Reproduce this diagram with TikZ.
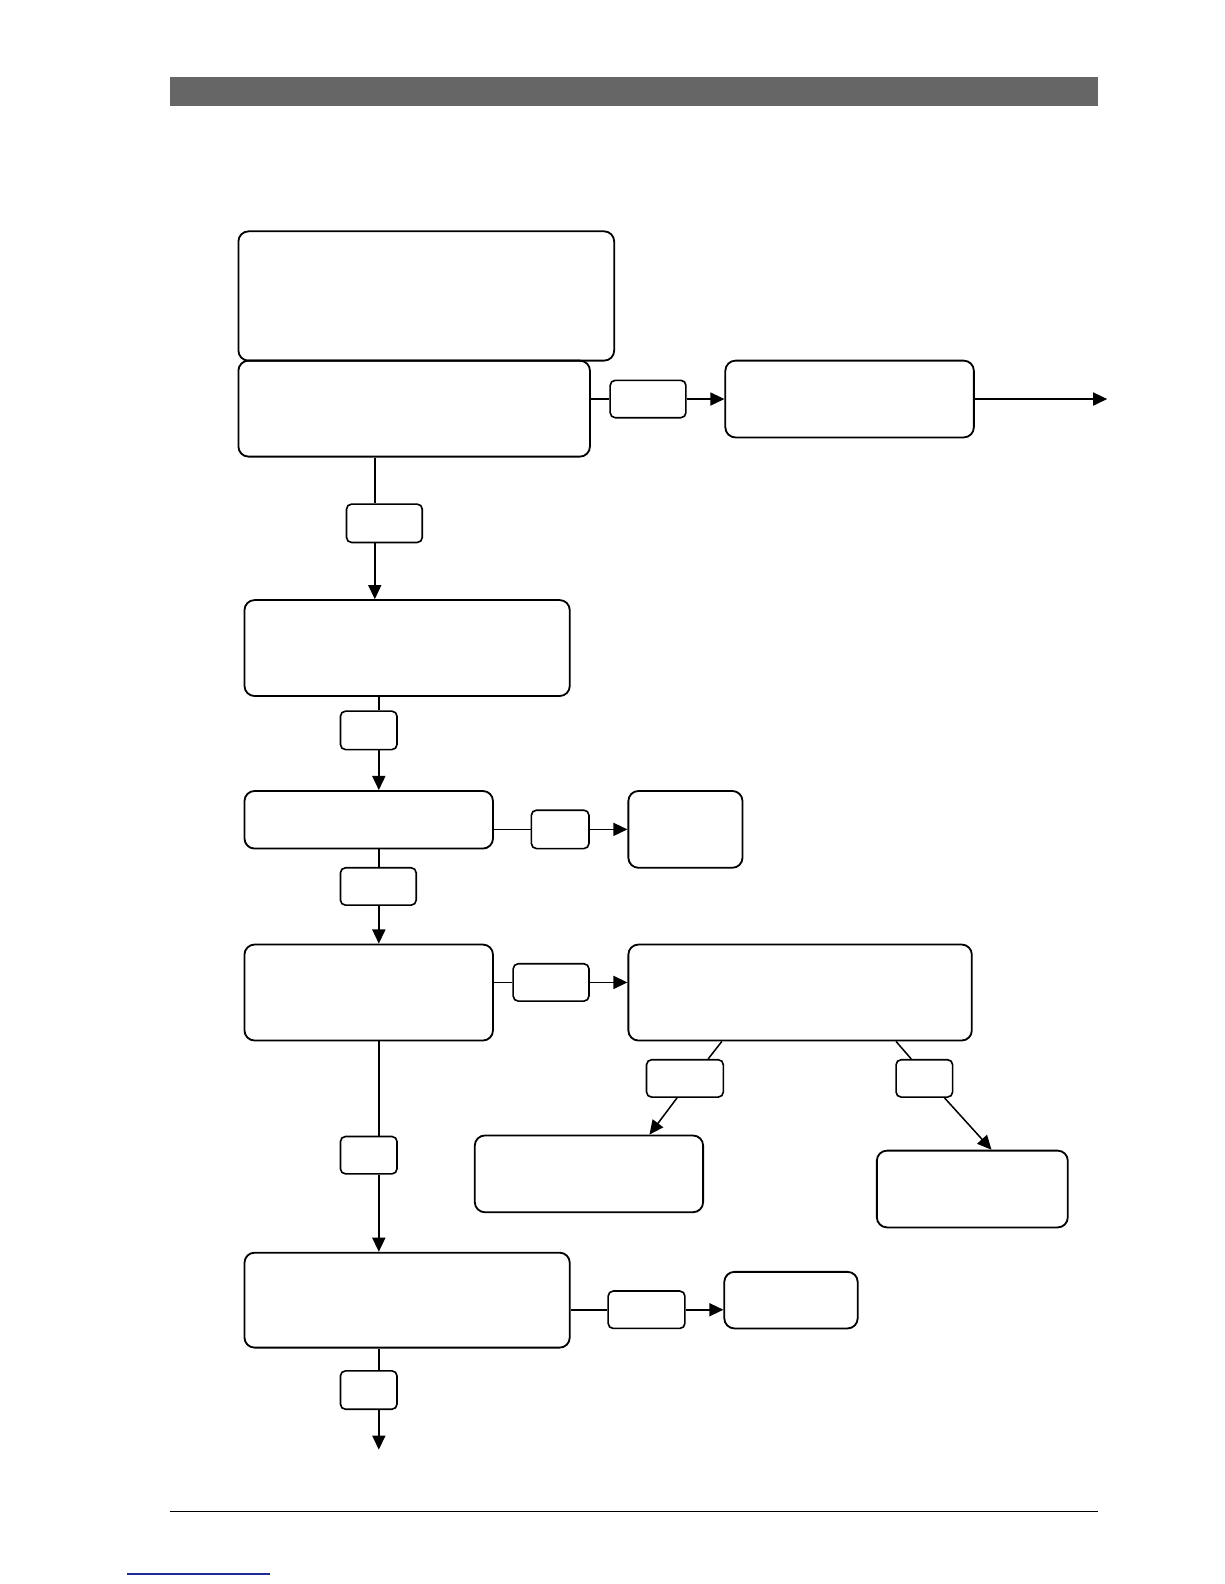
\documentclass[tikz,border=0pt]{standalone}
\usetikzlibrary{arrows.meta,positioning}
\definecolor{bargray}{HTML}{666666}
\definecolor{linkblue}{HTML}{1F2A9A}
\tikzset{
  stepbox/.style={rectangle,draw,line width=1.8pt,rounded corners=10pt,
                  inner sep=0pt},
  tag/.style    ={rectangle,draw,line width=1.6pt,rounded corners=5pt,
                  inner sep=0pt},
  arr/.style    ={-{Triangle[length=14pt,width=13pt]},line width=1.5pt},
  link/.style   ={line width=1.5pt}
}
\begin{document}
\begin{tikzpicture}[x=1pt,y=-1pt]
  \useasboundingbox (0,0) rectangle (1212,1568);
  % page furniture
  \fill [bargray] (168,76) rectangle (1087,105);
  \draw [line width=1pt] (168,1496) -- (1087,1496);
  \draw [linkblue,line width=1.5pt] (126,1558) -- (267,1558);

  % boxes
  \node (A)     [stepbox, minimum width=372pt, minimum height=128pt] at (422,293)    {};
  \node (B)     [stepbox, minimum width=348pt, minimum height=95pt]  at (410,404.5)  {};
  \node (lab1)  [tag,     minimum width=75pt,  minimum height=37pt]  at (641.5,395)  {};
  \node (C)     [stepbox, minimum width=246pt, minimum height=76pt]  at (841,395)    {};
  \node (lab2)  [tag,     minimum width=75pt,  minimum height=38pt]  at (380.5,518)  {};
  \node (D)     [stepbox, minimum width=322pt, minimum height=95pt]  at (403,641.5)  {};
  \node (lab3)  [tag,     minimum width=56pt,  minimum height=38pt]  at (365,723)    {};
  \node (E)     [stepbox, minimum width=246pt, minimum height=57pt]  at (365,811.5)  {};
  \node (lab4)  [tag,     minimum width=57pt,  minimum height=38pt]  at (554.5,821)  {};
  \node (F)     [stepbox, minimum width=113pt, minimum height=76pt]  at (678.5,821)  {};
  \node (lab5)  [tag,     minimum width=75pt,  minimum height=37pt]  at (374.5,877.5){};
  \node (G)     [stepbox, minimum width=246pt, minimum height=95pt]  at (365,982.5)  {};
  \node (lab6)  [tag,     minimum width=75pt,  minimum height=37pt]  at (545.5,972.5){};
  \node (H)     [stepbox, minimum width=340pt, minimum height=95pt]  at (792,982.5)  {};
  \node (lab7)  [tag,     minimum width=76pt,  minimum height=37pt]  at (678,1067.5) {};
  \node (I)     [stepbox, minimum width=226pt, minimum height=76pt]  at (583,1162)   {};
  \node (lab8)  [tag,     minimum width=56pt,  minimum height=37pt]  at (915,1067.5) {};
  \node (J)     [stepbox, minimum width=189pt, minimum height=76pt]  at (962.5,1177) {};
  \node (lab9)  [tag,     minimum width=56pt,  minimum height=37pt]  at (365,1143.5) {};
  \node (K)     [stepbox, minimum width=322pt, minimum height=94pt]  at (403,1287)   {};
  \node (lab10) [tag,     minimum width=76pt,  minimum height=37pt]  at (640,1296.5) {};
  \node (L)     [stepbox, minimum width=132pt, minimum height=56pt]  at (783,1287)   {};
  \node (lab11) [tag,     minimum width=56pt,  minimum height=38pt]  at (365,1376)   {};

  % free ends and spine
  \coordinate (out1) at (1096,395);
  \coordinate (out2) at (375,1435);
  \coordinate (s1)   at (371,0);
  \coordinate (s2)   at (375,0);

  % connectors
  \draw [link] (B.east |- lab1) -- (lab1);
  \draw [arr]  (lab1) -- (C);
  \draw [arr]  (C) -- (out1);
  \draw [link] (B.south -| s1) -- (lab2.north -| s1);
  \draw [arr]  (lab2.south -| s1) -- (D.north -| s1);
  \draw [link] (D.south -| s2) -- (lab3.north -| s2);
  \draw [arr]  (lab3.south -| s2) -- (E.north -| s2);
  \draw [link] (E.east |- lab4) -- (lab4);
  \draw [arr]  (lab4) -- (F);
  \draw [link] (E.south -| s2) -- (lab5.north -| s2);
  \draw [arr]  (lab5.south -| s2) -- (G.north -| s2);
  \draw [link] (G.east |- lab6) -- (lab6);
  \draw [arr]  (lab6) -- (H.west |- lab6);
  \draw [link] (H.-148) -- (lab7.40);
  \draw [arr]  (lab7.-112) -- (I.33);
  \draw [link] (H.-27) -- (lab8.124);
  \draw [arr]  (lab8.-44) -- (J.64);
  \draw [link] (G.south -| s2) -- (lab9.north -| s2);
  \draw [arr]  (lab9.south -| s2) -- (K.north -| s2);
  \draw [link] (K.east |- lab10) -- (lab10);
  \draw [arr]  (lab10) -- (L.west |- lab10);
  \draw [link] (K.south -| s2) -- (lab11.north -| s2);
  \draw [arr]  (lab11.south -| s2) -- (out2);
\end{tikzpicture}
\end{document}
